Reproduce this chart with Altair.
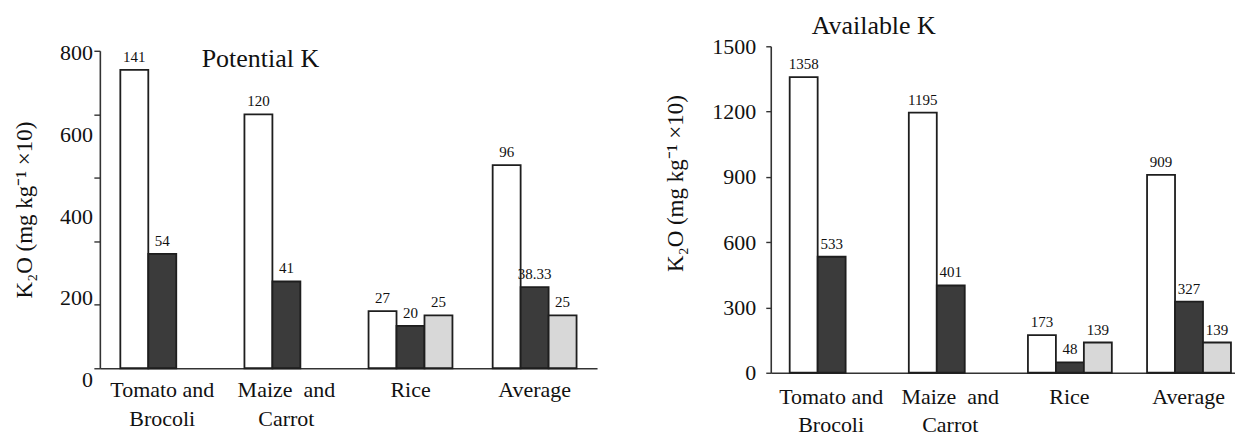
import altair as alt
import pandas as pd

# ---- data ----
groups = ["Tomato and|Brocoli\u00a0\u00a0\u00a0\u00a0\u00a0\u00a0\u00a0\u00a0",
          "Maize\u00a0\u00a0and|Carrot\u00a0\u00a0\u00a0\u00a0\u00a0\u00a0\u00a0\u00a0\u00a0",
          "Rice", "Average"]
series = ["Series 1", "Series 2", "Series 3"]

potential_s1 = [141, 120, 27, 96]
potential_s2 = [54, 41, 20, 38.33]
potential_s3 = [None, None, 25, 25]

available_s1 = [1358, 1195, 173, 909]
available_s2 = [533, 401, 48, 327]
available_s3 = [None, None, 139, 139]

left_tick_values = [0, 30, 60, 90, 120, 150]
left_tick_labels = [0, 200, 400, 600, 800]
right_tick_values = [0, 300, 600, 900, 1200, 1500]

y_title = "K\u2082O (mg kg\u207b\u00b9 \u00d710)"
FONT = "Liberation Serif"
fill_colors = ["#ffffff", "#3b3b3b", "#d8d8d8"]


def make_df(s1, s2, s3):
    rows = []
    for g, a, b, c in zip(groups, s1, s2, s3):
        for s, v in zip(series, [a, b, c]):
            if v is not None:
                rows.append({"group": g, "series": s, "value": v, "label": f"{v:g}"})
    return pd.DataFrame(rows)


df_left = make_df(potential_s1, potential_s2, potential_s3)
df_right = make_df(available_s1, available_s2, available_s3)


def x_axis(pad, lh):
    return alt.Axis(title=None, labelAngle=0, ticks=False, labelPadding=pad,
                    labelExpr="split(datum.label, '|')", labelLineHeight=lh,
                    labelFontSize=22, labelFont=FONT, labelColor="#111",
                    domainColor="#333", domainWidth=1.6, grid=False)


xoff = alt.XOffset("series:N", sort=series, scale=alt.Scale(domain=series, paddingInner=0, paddingOuter=0))
color = alt.Color("series:N", scale=alt.Scale(domain=series, range=fill_colors), legend=None)

# ---- left panel ----
lx_axis = x_axis(11, 29)
lx_scale = alt.Scale(paddingInner=0.324, paddingOuter=0.165)
ly_scale = alt.Scale(domain=[0, 150], nice=False, zero=True)
ly_axis = alt.Axis(values=left_tick_values, labels=False, tickSize=6, tickColor="#333",
                   tickWidth=1.4, domainColor="#333", domainWidth=1.6, grid=False,
                   title=y_title, titlePadding=57, titleFontSize=23, titleFont=FONT,
                   titleFontWeight="normal", titleColor="#111")

left_bars = alt.Chart(df_left).mark_bar(stroke="#1e1e1e", strokeWidth=1.8).encode(
    x=alt.X("group:N", sort=groups, scale=lx_scale, axis=lx_axis),
    xOffset=xoff,
    y=alt.Y("value:Q", scale=ly_scale, axis=ly_axis),
    fill=color,
)
left_text = alt.Chart(df_left).mark_text(baseline="bottom", dy=-5, fontSize=15, font=FONT, color="#111").encode(
    x=alt.X("group:N", sort=groups, scale=lx_scale, axis=lx_axis),
    xOffset=xoff,
    y=alt.Y("value:Q", scale=ly_scale, axis=ly_axis),
    text="label:N",
)
left_axis_text = alt.Chart(pd.DataFrame({"v": left_tick_labels})).mark_text(
    align="right", baseline="middle", fontSize=22, font=FONT, color="#111"
).encode(
    x=alt.value(-7),
    y=alt.Y("v:Q", scale=alt.Scale(domain=[28.8, 806.4], nice=False, zero=False), axis=None),
    text="v:Q",
)
left = alt.layer(alt.layer(left_bars, left_text), left_axis_text).resolve_scale(y="independent").properties(
    width=498, height=318,
    title=alt.TitleParams("Potential K", anchor="start", frame="group", dx=102, dy=34,
                          fontSize=26, font=FONT, fontWeight="normal", color="#111"),
)

# ---- right panel ----
rx_axis = x_axis(14, 28)
rx_scale = alt.Scale(paddingInner=0.304, paddingOuter=0.1006, align=0.79)
ry_scale = alt.Scale(domain=[0, 1500], nice=False)
ry_axis = alt.Axis(values=right_tick_values, format="d", tickSize=5, tickColor="#333",
                   tickWidth=1.4, labelPadding=10, labelFontSize=22, labelFont=FONT,
                   labelColor="#111", domainColor="#333", domainWidth=1.6, grid=False,
                   title=y_title, titlePadding=24, titleFontSize=23, titleFont=FONT,
                   titleFontWeight="normal", titleColor="#111", titleY=137)

right_bars = alt.Chart(df_right).mark_bar(stroke="#1e1e1e", strokeWidth=1.8).encode(
    x=alt.X("group:N", sort=groups, scale=rx_scale, axis=rx_axis),
    xOffset=xoff,
    y=alt.Y("value:Q", scale=ry_scale, axis=ry_axis),
    fill=color,
)
right_text = alt.Chart(df_right).mark_text(baseline="bottom", dy=-5, fontSize=15, font=FONT, color="#111").encode(
    x=alt.X("group:N", sort=groups, scale=rx_scale, axis=rx_axis),
    xOffset=xoff,
    y=alt.Y("value:Q", scale=ry_scale, axis=ry_axis),
    text="label:N",
)
right = alt.layer(right_bars, right_text).properties(
    width=465, height=327,
    title=alt.TitleParams("Available K", anchor="start", frame="group", dx=41, dy=8,
                          fontSize=26, font=FONT, fontWeight="normal", color="#111"),
)

chart = alt.hconcat(left, right, spacing=174, bounds="flush", center=True).configure(
    padding={"left": 5, "top": 5, "right": 0, "bottom": 0}, font=FONT
).configure_view(stroke=None).configure_axis(labelFont=FONT, titleFont=FONT)

chart.save("out.html", embed_options={"renderer": "svg", "actions": False})
